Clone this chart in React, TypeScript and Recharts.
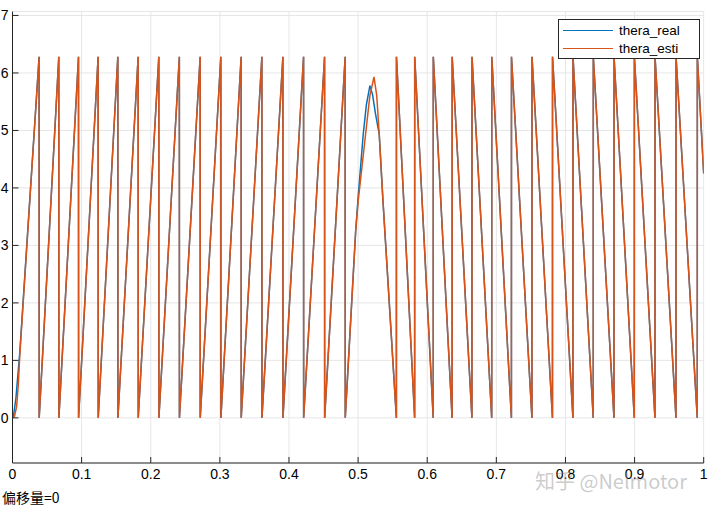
import React from 'react'
import { LineChart, Line, XAxis, YAxis, CartesianGrid, Legend } from 'recharts'

const TWO_PI = 6.283

// tick labels
const xTicks = [0, 0.1, 0.2, 0.3, 0.4, 0.5, 0.6, 0.7, 0.8, 0.9, 1]
const yTicks = [0, 1, 2, 3, 4, 5, 6, 7]

// times where the rising angle wraps from 2*pi back to 0 (before the reversal)
const riseWrapT = [
  0.0385, 0.067, 0.0955, 0.1239, 0.1524, 0.1818, 0.2117, 0.2414,
  0.2715, 0.3014, 0.3308, 0.3608, 0.3912, 0.4211, 0.4515, 0.4813
]
// times where the falling angle wraps from 0 up to 2*pi (after the reversal)
const fallWrapT = [
  0.5554, 0.5818, 0.6087, 0.636, 0.6647, 0.6933, 0.7218, 0.7515,
  0.7812, 0.8108, 0.8402, 0.8702, 0.8996, 0.9295, 0.9599, 0.9907
]

// start-up
const realStartT = [0, 0.002, 0.005, 0.008, 0.0106]
const realStartV = [0, 0.08, 0.35, 0.78, 1.15]
const estiStartT = [0, 0.003, 0.006, 0.0085, 0.0106]
const estiStartV = [0, 0.03, 0.2, 0.6, 1.1]

// speed reversal around 0.5 s
const realHumpT = [0.4965, 0.5001, 0.5074, 0.512, 0.5171, 0.521, 0.525, 0.5306, 0.536]
const realHumpV = [3.25, 3.85, 4.93, 5.45, 5.78, 5.62, 5.3, 4.93, 3.77]
const estiHumpT = [0.4965, 0.5001, 0.5108, 0.517, 0.523, 0.527, 0.5306, 0.536]
const estiHumpV = [3.25, 3.77, 4.93, 5.6, 5.93, 5.6, 4.93, 3.77]

const endV = 4.25

type Pt = { t: number; v: number }

function buildSeries(startT: number[], startV: number[], humpT: number[], humpV: number[]): Pt[] {
  const pts: Pt[] = []
  startT.forEach((t, i) => pts.push({ t, v: startV[i] }))
  riseWrapT.forEach((t) => {
    pts.push({ t, v: TWO_PI })
    pts.push({ t: t + 0.0001, v: 0 })
  })
  humpT.forEach((t, i) => pts.push({ t, v: humpV[i] }))
  fallWrapT.forEach((t) => {
    pts.push({ t, v: 0 })
    pts.push({ t: t + 0.0001, v: TWO_PI })
  })
  pts.push({ t: 1, v: endV })
  return pts
}

const realData = buildSeries(realStartT, realStartV, realHumpT, realHumpV)
const estiData = buildSeries(estiStartT, estiStartV, estiHumpT, estiHumpV)

const BLUE = '#0072BD'
const ORANGE = '#D95319'
const AXIS = '#262626'
const FONT = '"Liberation Sans", Arial, sans-serif'

function LegendBox() {
  const row = (color: string, label: string) => (
    <div style={{ display: 'flex', alignItems: 'center', height: 18 }}>
      <div style={{ width: 50, height: 0, borderTop: `1.5px solid ${color}`, marginLeft: 4, marginRight: 6 }} />
      <span>{label}</span>
    </div>
  )
  return (
    <div
      style={{
        border: `1px solid ${AXIS}`,
        background: '#fff',
        width: 140,
        padding: '1px 0',
        fontFamily: FONT,
        fontSize: 13.5,
        color: '#000'
      }}
    >
      {row(BLUE, 'thera_real')}
      {row(ORANGE, 'thera_esti')}
    </div>
  )
}

export default function App() {
  return (
    <div style={{ position: 'absolute', left: 0, top: 0, width: 720, height: 509, background: '#fff' }}>
      <LineChart width={720} height={509} margin={{ top: 11.5, right: 16.3, bottom: 0, left: 0 }}>
        <CartesianGrid stroke="#e6e6e6" />
        <XAxis
          dataKey="t"
          type="number"
          domain={[0, 1]}
          ticks={xTicks}
          height={46}
          tickSize={-6}
          tickMargin={12}
          stroke={AXIS}
          tick={{ fill: '#000', fontSize: 14, fontFamily: FONT }}
          allowDataOverflow
        />
        <XAxis
          xAxisId="top"
          orientation="top"
          type="number"
          domain={[0, 1]}
          ticks={xTicks}
          height={0}
          tickSize={-6}
          tick={false}
          stroke={AXIS}
          allowDataOverflow
        />
        <YAxis
          type="number"
          domain={[-0.785, 7.069]}
          ticks={yTicks}
          width={12.5}
          tickSize={-6}
          tickMargin={10}
          stroke={AXIS}
          tick={{ fill: '#000', fontSize: 14, fontFamily: FONT }}
          allowDataOverflow
        />
        <YAxis
          yAxisId="right"
          orientation="right"
          type="number"
          domain={[-0.785, 7.069]}
          ticks={yTicks}
          width={0}
          tickSize={-6}
          tick={false}
          stroke={AXIS}
          allowDataOverflow
        />
        <Line
          data={realData}
          dataKey="v"
          name="thera_real"
          type="linear"
          stroke={BLUE}
          strokeWidth={1.5}
          dot={false}
          activeDot={false}
          isAnimationActive={false}
        />
        <Line
          data={estiData}
          dataKey="v"
          name="thera_esti"
          type="linear"
          stroke={ORANGE}
          strokeWidth={1.5}
          dot={false}
          activeDot={false}
          isAnimationActive={false}
        />
        <Legend
          layout="vertical"
          align="center"
          verticalAlign="middle"
          content={() => <LegendBox />}
          wrapperStyle={{ position: 'absolute', left: 558, top: 19, width: 'auto', height: 'auto' }}
        />
      </LineChart>
      <div
        style={{
          position: 'absolute',
          left: 2,
          top: 487,
          fontFamily: '"Noto Sans CJK SC", sans-serif',
          fontSize: 14,
          color: '#000'
        }}
      >
        偏移量=0
      </div>
      <div
        style={{
          position: 'absolute',
          left: 535,
          top: 466,
          fontFamily: '"Noto Sans CJK SC", sans-serif',
          fontSize: 20,
          color: 'rgba(140,140,140,0.45)',
          whiteSpace: 'nowrap'
        }}
      >
        知乎 @Nelmotor
      </div>
    </div>
  )
}
